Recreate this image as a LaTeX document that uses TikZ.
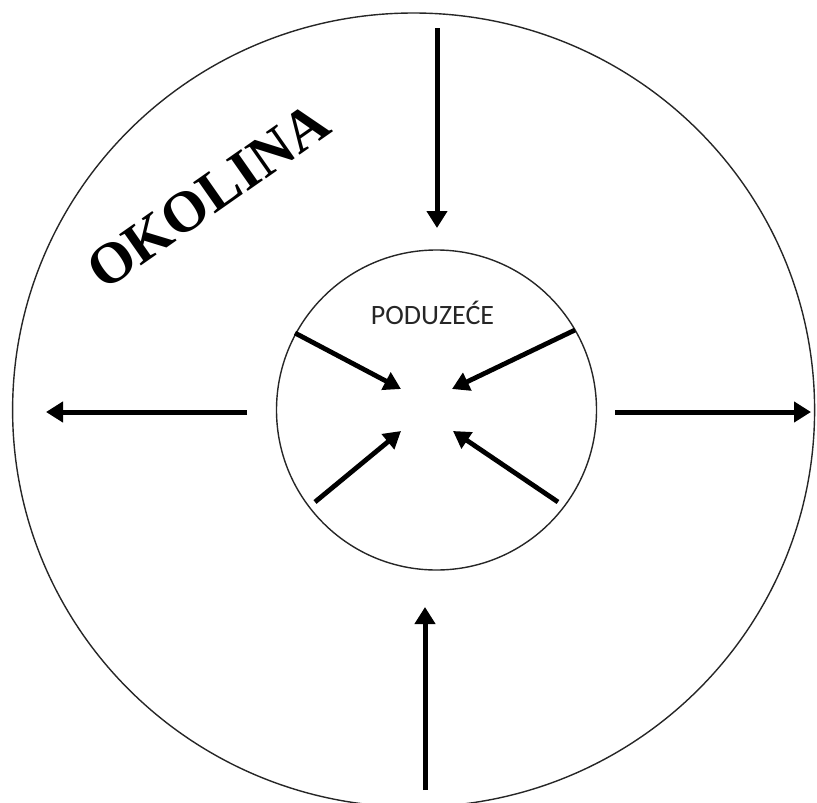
\documentclass[tikz,border=0pt]{standalone}
\usepackage{fontspec}
\setmainfont{Liberation Serif}
\newfontfamily\carlito{Carlito}
\usetikzlibrary{arrows.meta,shapes.geometric}
\begin{document}
\begin{tikzpicture}[x=1pt,y=-1pt,
  ring/.style={draw=black!85,line width=1.4pt,inner sep=0pt},
  flow/.style={line width=5pt,-{Triangle[length=17pt,width=20pt]}},
  inflow/.style={line width=4.8pt,-{Triangle[length=17pt,width=19pt]}}]
\useasboundingbox (0,0) rectangle (817,803);
\node[ring,ellipse,minimum width=802pt,minimum height=794pt] (outer) at (413.6,410) {};
\node[ring,circle,minimum size=320pt] (inner) at (436.5,410) {};
\node[anchor=base,font=\carlito\fontsize{28}{32}\selectfont,text=black!85] (firm) at (432.5,324) {PODUZEĆE};
\node[rotate=35,font=\bfseries\fontsize{58}{60}\selectfont] (env) at (208,196) {OKOLINA};
% outer arrows
\coordinate (ta) at (437,28);   \coordinate (tb) at (437,228);
\coordinate (ba) at (425,790);  \coordinate (bb) at (425,607);
\coordinate (la) at (247,412);  \coordinate (lb) at (46,412);
\coordinate (ra) at (615,412);  \coordinate (rb) at (811,412);
\draw[flow] (ta) -- (tb);
\draw[flow] (ba) -- (bb);
\draw[flow] (la) -- (lb);
\draw[flow] (ra) -- (rb);
% inner arrows
\coordinate (ula) at (295,333); \coordinate (ulb) at (401,389);
\coordinate (ura) at (575,330); \coordinate (urb) at (452,389);
\coordinate (lla) at (315,502); \coordinate (llb) at (401,431);
\coordinate (lra) at (558,502); \coordinate (lrb) at (453,431);
\draw[inflow] (ula) -- (ulb);
\draw[inflow] (ura) -- (urb);
\draw[inflow] (lla) -- (llb);
\draw[inflow] (lra) -- (lrb);
\end{tikzpicture}
\end{document}
